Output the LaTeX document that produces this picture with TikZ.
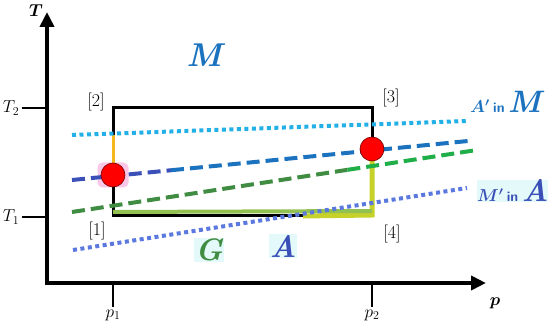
\documentclass[tikz,border=0pt]{standalone}
\usepackage{fontspec}
\usetikzlibrary{arrows.meta,calc}
\definecolor{skyb}{HTML}{22B0E6}
\definecolor{midb}{HTML}{1B72BE}
\definecolor{indb}{HTML}{3A50B8}
\definecolor{darkg}{HTML}{3F8C42}
\definecolor{brightg}{HTML}{1FAE48}
\definecolor{viob}{HTML}{5B78DE}
\definecolor{oliveg}{HTML}{93C151}
\definecolor{yelg}{HTML}{C6D12A}
\definecolor{amber}{HTML}{F6B81E}
\definecolor{glowc}{HTML}{E4FAFA}
\tikzset{
  axis/.style={line width=4pt},
  tick/.style={line width=2.5pt},
  lab/.style={font=\fontsize{17.28}{17}\selectfont,inner sep=1.5pt},
  corner/.style={font=\fontsize{18}{18}\selectfont,inner sep=0pt},
  edge/.style={line width=3pt},
  dotline/.style={line width=4pt,dash pattern=on 4pt off 3.5pt},
  dashline/.style={line width=4pt,dash pattern=on 13pt off 6pt},
  state/.style={circle,draw=red!45!black,fill=red,minimum size=24pt,inner sep=0pt,line width=0.6pt},
  big/.style={font=\fontsize{31}{31}\selectfont\bfseries\itshape,inner sep=1pt},
}
\begin{document}
\begin{tikzpicture}[x=1pt,y=-1pt,>={Triangle[length=15pt,width=14pt]}]
\useasboundingbox (0,0) rectangle (550,334);
\coordinate (Ttip) at (47,12);
\coordinate (O) at (47,283);
\coordinate (ptip) at (486,283);
\draw[axis,<->] (Ttip) -- (O) -- (ptip);
\foreach \y/\t/\n in {108/T_2/t2,217/T_1/t1}
{
    \draw[tick](47,\y)--(22,\y)node[left,lab](\n){$\t$};
}
\foreach \x/\t/\n in {113/p_1/p1,372/p_2/p2}
{
    \draw[tick](\x,283)--(\x,307)node[below,lab](\n){$\t$};
}
\node[lab,font=\fontsize{17.28}{17}\selectfont\boldmath] (Tname) at (36,11) {$T$};
\node[lab,font=\fontsize{17.28}{17}\selectfont\boldmath] (pname) at (495,303) {$p$};

\coordinate (c1) at (113,216);
\coordinate (c2) at (113,108);
\coordinate (c3) at (372,108);
\coordinate (c4) at (372,215);
\coordinate (o2) at (113,135);
\coordinate (b1) at (303,216);
\coordinate (m1) at (113,175);
\coordinate (m3) at (372,149);
\foreach \n/\x/\y in {1/97/231,2/96/102,3/391/98,4/392/234}
{
    \node[corner](k\n) at (\x,\y){[\n]};
}

\node[fill=magenta!22,rounded corners=5pt,minimum width=31pt,minimum height=25pt] (glow) at (m1) {};
\draw[edge](o2)--(c2)--(c3)--(m3);
\draw[edge,amber](o2)--(m1);
\draw[edge](m1)--(c1)--(b1);
\draw[edge,yelg,line width=5pt](m3)--(c4)--(b1);
\draw[edge,oliveg,line width=4pt]([yshift=4pt]c1)--([yshift=4pt]c4);

\coordinate (aml) at (72,135);
\coordinate (amr) at (468,121);
\coordinate (bl) at (72,180);
\coordinate (br) at (468,141);
\coordinate (gl) at (72,212);
\coordinate (gr) at (477,150);
\coordinate (mal) at (73,250);
\coordinate (mar) at (467,188);
\draw[dotline,skyb](aml)--(amr);
\draw[dashline,indb](bl)--($(bl)!0.25!(br)$);
\draw[dashline,midb]($(bl)!0.25!(br)$)--(br);
\draw[dashline,darkg](gl)--($(gl)!0.68!(gr)$);
\draw[dashline,brightg]($(gl)!0.68!(gr)$)--(gr);
\draw[dotline,viob](mal)--(mar);

\node[state] (s1) at (m1) {};
\node[state] (s3) at (m3) {};

\node[big,text=midb,font=\fontsize{33}{33}\selectfont\bfseries\itshape] (Mreg) at (204,55) {M};
\node[big,text=darkg,fill=glowc] (Greg) at (209,250) {G};
\node[big,text=indb,fill=glowc] (Areg) at (283,246) {A};
\node[anchor=base west,text=midb,inner sep=0pt] (amlab) at (470,113)
  {{\fontsize{17.28}{17}\selectfont\boldmath$A'$} {\sffamily\bfseries\fontsize{14}{14}\selectfont in} {\fontsize{31}{31}\selectfont\bfseries\itshape M}};
\node[anchor=base west,text=indb,inner sep=0pt,fill=glowc] (malab) at (477,202)
  {{\fontsize{17.28}{17}\selectfont\boldmath$M'$} {\sffamily\bfseries\fontsize{14}{14}\selectfont in} {\fontsize{31}{31}\selectfont\bfseries\itshape A}};
\end{tikzpicture}
\end{document}
